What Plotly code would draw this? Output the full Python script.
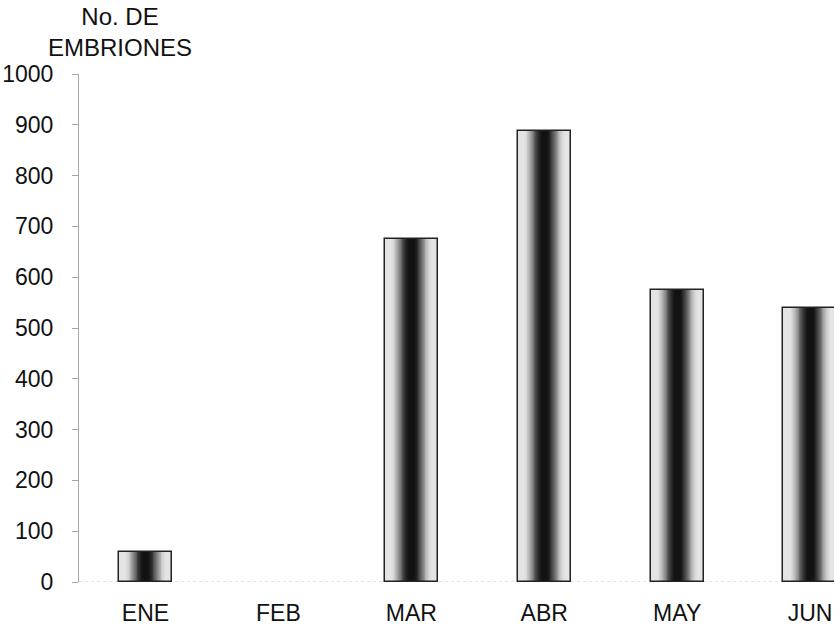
import plotly.graph_objects as go

# Monthly embryo counts
months = ["ENE", "FEB", "MAR", "ABR", "MAY", "JUN"]
embriones = [59, 0, 676, 887, 574, 540]

y_ticks = [0, 100, 200, 300, 400, 500, 600, 700, 800, 900, 1000]

BAR_WIDTH = 0.4
N_LAYERS = 30
FONT = "Liberation Sans, Arial, sans-serif"


def shade(u):
    """Grey level for the strip at relative half-width u (0 = centre, 1 = edge)."""
    t = min(max((u - 0.08) / 0.72, 0.0), 1.0)
    s = t * t * (3 - 2 * t)
    return int(18 + 210 * s)


fig = go.Figure()

# Cylinder-like shading: stacked bars of shrinking width, darker toward the centre
for k in range(N_LAYERS):
    u = 1 - k / N_LAYERS
    g = shade(u)
    fig.add_trace(go.Bar(
        x=months, y=embriones,
        width=BAR_WIDTH * u,
        marker=dict(color=f"rgb({g},{g},{g})", line=dict(width=0)),
        hoverinfo="skip", showlegend=False,
    ))

# Bar outlines (none for empty months)
fig.add_trace(go.Bar(
    x=months, y=embriones, width=BAR_WIDTH,
    marker=dict(color="rgba(0,0,0,0)",
                line=dict(color="#222", width=[1.5 if v > 0 else 0 for v in embriones])),
    showlegend=False,
))

# Dotted baseline at zero
fig.add_shape(type="line", xref="paper", yref="y", x0=0, x1=1, y0=0, y1=0,
              line=dict(color="#c8c8c8", width=1, dash="dot"), layer="below")

fig.add_annotation(
    text="No. DE<br>EMBRIONES", xref="paper", yref="paper",
    x=(120 - 79) / 755, y=1, xanchor="center", yanchor="bottom", yshift=11,
    showarrow=False, font=dict(family=FONT, size=24, color="#111"),
)

fig.update_layout(
    width=834, height=630,
    margin=dict(l=79, r=0, t=74, b=48),
    paper_bgcolor="white", plot_bgcolor="white",
    barmode="overlay", bargap=0,
    font=dict(family=FONT, size=23, color="#111"),
    xaxis=dict(
        type="category", range=[-0.5, 5.18],
        showline=False, showgrid=False, zeroline=False,
        ticks="", ticklabelstandoff=15,
        tickfont=dict(size=23),
    ),
    yaxis=dict(
        range=[0, 1000], tickvals=y_ticks,
        showline=True, linecolor="#a8a8a8", linewidth=1,
        ticks="outside", ticklen=6, tickcolor="#a8a8a8",
        showgrid=False, zeroline=False,
        ticklabelstandoff=14,
        tickfont=dict(size=23),
    ),
)

fig.write_html("out.html")
